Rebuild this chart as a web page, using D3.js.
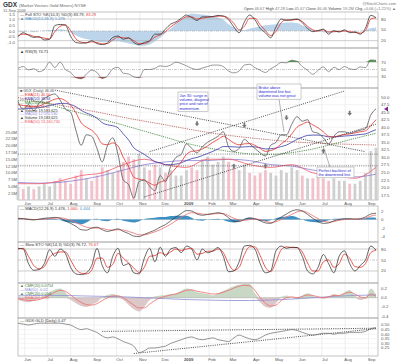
<!DOCTYPE html>
<html><head><meta charset="utf-8">
<script src="https://cdn.jsdelivr.net/npm/d3@7"></script>
<style>body{margin:0;background:#fff} text{font-family:"Liberation Sans",Arial,sans-serif}</style>
</head><body><svg id="chart" width="400" height="364"></svg>
<script>
// weekly samples, 23-May-2008 .. 11-Sep-2009
var startWeek = new Date(2008, 4, 23);
var price = [48.5,46.0,47.5,45.5,48.0,49.5,50.5,51.0,49.0,46.0,45.0,39.0,34.0,37.5,37.0,33.0,28.5,34.0,36.5,31.0,22.5,21.0,16.5,22.0,22.5,20.5,19.0,24.0,22.0,27.0,30.0,31.0,34.5,33.0,31.5,33.5,35.0,36.0,37.0,38.5,33.5,32.0,33.0,36.0,34.5,33.0,31.5,30.5,34.0,35.0,37.5,37.5,41.0,43.5,42.0,42.5,38.5,38.0,36.5,34.5,37.0,38.5,38.5,38.0,38.5,39.0,39.5,44.0,46.06];
var ema21 = [47.5,47.2,47.0,46.8,47.0,47.8,48.5,49.3,49.5,48.8,47.3,44.8,41.5,40.0,39.0,37.2,34.5,34.2,34.8,33.8,30.0,27.0,23.5,22.8,22.5,21.5,20.8,21.8,22.5,24.5,26.5,28.5,31.0,32.0,32.2,32.8,33.8,35.0,36.0,37.0,36.0,34.8,34.2,34.5,34.6,34.0,33.0,32.0,32.3,33.0,34.5,35.8,37.8,40.0,41.0,41.7,40.8,39.8,38.5,37.0,36.8,37.2,37.6,37.8,38.1,38.5,38.8,40.5,42.5];
var ema50 = [46.0,46.1,46.2,46.3,46.5,46.8,47.2,47.6,47.9,47.9,47.5,46.8,45.6,44.7,44.0,43.0,41.5,40.8,40.5,39.8,37.8,35.8,33.2,32.0,31.0,29.8,28.6,28.2,27.6,27.6,27.8,28.2,29.0,29.6,30.0,30.6,31.3,32.0,32.8,33.6,33.6,33.5,33.4,33.5,33.6,33.5,33.2,32.8,32.9,33.1,33.6,34.1,35.0,36.0,36.7,37.3,37.4,37.4,37.2,36.8,36.8,36.9,37.1,37.2,37.4,37.6,37.8,38.5,39.2];
// every 4th week
var sma150 = [48.8,48.4,46.5,44.6,42.6,40.7,38.7,36.7,34.7,33.2,32.0,31.2,31.0,31.6,32.8,34.5,36.3,38.0];
var sma200 = [49.8,48.5,47.3,46.0,44.7,43.3,42.0,40.8,39.5,38.3,37.3,36.5,35.8,35.2,34.8,34.5,34.3,34.1];
var volume = [5,4,5,4,5,6,5,7,8,7,6,9,11,8,7,9,12,11,10,11,14,16,15,17,12,11,13,12,10,11,9,9,11,12,11,15,16,13,14,16,14,12,11,13,10,9,10,11,10,9,11,10,12,11,9,8,8,9,8,7,8,7,7,6,6,7,10,18,19.2];
var volMa50 = [6.5,6.2,6.5,7.5,9,11,13,14,14.5,14.5,15,14.5,13,12.5,11,10,8.5,9.5];
var volEma = [6,6,7,9,10,13,15,13,12,15,15,13,12,13,10,9,8,12];

var stoK = [31,42,35,29,31,22,24,62,65,63,32,15,13,14,20,12,9,14,29,33,24,28,15,9,15,20,38,38,52,66,72,82,91,84,76,86,86,87,90,88,78,58,42,72,91,78,54,42,28,58,80,76,78,80,70,54,45,48,52,38,48,44,50,42,44,38,55,90,83.79];
var stoD = [33,38,37,32,30,27,25,45,60,64,48,25,16,14,17,15,11,12,22,30,28,27,20,12,12,18,30,36,45,58,68,78,86,86,80,82,85,86,88,88,82,68,50,60,82,82,64,48,34,46,70,78,77,79,73,60,50,47,50,44,45,46,47,45,43,41,48,80,83.29];
var stoArea = [0,-0.1,0,-0.1,0,0.05,0.1,0.1,0.15,0.1,-0.1,-0.4,-0.6,-0.7,-0.8,-0.9,-1.0,-1.0,-0.9,-0.9,-1.0,-1.1,-1.2,-1.3,-1.3,-1.2,-0.9,-0.6,-0.2,0.2,0.6,1.0,1.3,1.55,1.5,1.45,1.4,1.3,1.2,1.0,0.6,0.3,0.1,0.1,0.2,0.3,0.4,0.5,0.55,0.6,0.7,0.75,0.75,0.7,0.5,0.3,0.1,-0.05,-0.1,-0.15,-0.1,-0.1,-0.05,0,-0.05,0,0.1,0.25,0.3];
var rsi = [53,58,49,52,44,50,70,55,70,50,42,28,25,38,48,42,26,33,52,56,40,38,30,28,50,50,53,60,58,62,70,66,60,53,50,54,58,62,62,58,46,41,46,62,64,55,48,42,52,60,69,68,75,72,58,48,37,48,57,44,56,50,58,52,50,57,55,76,74.71];
var macd = [0.3,0.2,0,-0.1,0.1,0.3,0.4,0.5,0.3,-0.3,-0.9,-1.6,-2.4,-2.5,-2.0,-1.8,-2.4,-2.8,-2.5,-2.2,-2.8,-3.3,-3.9,-4.0,-3.5,-3.0,-2.5,-1.8,-1.2,-0.3,0.6,1.4,2.1,2.0,1.3,1.0,1.2,1.4,1.6,1.3,0.4,-0.4,-0.5,0,0.4,0.2,-0.3,-0.8,-0.9,-0.2,0.6,1.3,2.0,2.3,2.0,1.2,0.3,-0.5,-0.9,-0.8,-0.3,0,0.2,0.2,0.1,0.2,0.6,1.3,1.476];
var macdSig = [0.2,0.2,0.1,0,0,0.1,0.2,0.3,0.4,0.2,-0.2,-0.7,-1.3,-1.8,-2.0,-2.0,-2.1,-2.4,-2.5,-2.4,-2.5,-2.8,-3.2,-3.6,-3.6,-3.3,-2.9,-2.4,-1.8,-1.1,-0.3,0.5,1.2,1.6,1.5,1.3,1.2,1.3,1.4,1.4,0.9,0.3,-0.1,-0.2,0,0.1,0,-0.4,-0.7,-0.5,0,0.6,1.2,1.8,2.0,1.6,0.9,0.2,-0.4,-0.6,-0.5,-0.2,0,0.1,0.1,0.1,0.3,0.8,1.06];
var macdHist = [0.1,0,-0.1,-0.1,0.1,0.2,0.2,0.2,-0.1,-0.5,-0.7,-0.9,-1.1,-0.7,0,0.2,-0.3,-0.4,0,0.2,-0.3,-0.5,-0.7,-0.4,0.1,0.3,0.4,0.6,0.6,0.8,0.9,0.9,0.9,0.4,-0.2,-0.3,0,0.1,0.2,-0.1,-0.5,-0.7,-0.4,0.2,0.4,0.1,-0.3,-0.4,-0.2,0.3,0.6,0.7,0.8,0.5,0,-0.4,-0.6,-0.7,-0.5,-0.2,0.2,0.2,0.2,0.1,0,0.1,0.3,0.5,0.42];
var slowK = [82,80,40,22,24,40,78,60,80,68,30,12,10,15,35,82,35,15,60,82,35,40,15,12,55,82,45,85,60,80,84,70,88,80,50,80,70,75,84,60,18,20,45,88,90,80,40,15,20,75,88,82,85,84,60,20,12,30,65,40,15,60,75,40,20,35,50,88,76.72];
var slowD = [80,82,60,35,26,32,58,68,72,72,50,25,14,12,22,55,55,30,38,68,55,42,28,16,30,60,62,70,65,72,80,76,80,82,66,68,74,74,80,70,40,22,30,65,86,86,62,30,18,45,78,86,84,84,72,42,20,20,45,50,30,40,66,55,32,30,40,70,76.67];
var cmf = [-0.05,-0.08,-0.1,-0.06,-0.02,0.05,0.12,0.18,0.2,0.12,-0.05,-0.12,-0.18,-0.2,-0.15,-0.1,0.02,0.06,0.08,0.05,-0.05,-0.15,-0.25,-0.3,-0.2,-0.05,0.03,0.05,0.06,0.08,0.1,0.15,0.2,0.18,0.12,0.1,0.08,0.05,0.1,0.15,0.2,0.25,0.28,0.3,0.3,0.1,-0.1,-0.2,-0.22,-0.12,0.02,0.05,0,-0.03,0.05,0.1,0.05,0,-0.02,0.02,0.08,0.05,0.12,0.17,0.05,-0.05,-0.02,0.2,0.075];
var cmfEma = [-0.02,-0.04,-0.06,-0.06,-0.04,0,0.06,0.12,0.16,0.14,0.06,-0.03,-0.1,-0.15,-0.16,-0.13,-0.06,0,0.04,0.04,0,-0.08,-0.16,-0.22,-0.22,-0.14,-0.06,0,0.03,0.06,0.08,0.12,0.16,0.17,0.14,0.12,0.1,0.08,0.09,0.12,0.16,0.21,0.25,0.27,0.26,0.16,0,-0.12,-0.18,-0.16,-0.06,0,0.02,0,0.03,0.06,0.05,0.02,0,0.02,0.05,0.05,0.09,0.12,0.08,0.02,0,0.08,0.03];
var cmfMa = [0.04,0.05,0.05,0.04,0.03,0.02,0,-0.02,-0.04,-0.05,-0.06,-0.06,-0.05,-0.03,0,0.03,0.05,0.06];
var ratio = [0.52,0.51,0.50,0.51,0.52,0.52,0.52,0.52,0.52,0.51,0.50,0.47,0.45,0.46,0.44,0.42,0.38,0.36,0.37,0.35,0.32,0.30,0.27,0.20,0.22,0.25,0.25,0.26,0.27,0.30,0.32,0.34,0.36,0.37,0.35,0.34,0.35,0.36,0.34,0.33,0.32,0.36,0.39,0.37,0.35,0.34,0.36,0.39,0.41,0.42,0.43,0.44,0.45,0.44,0.42,0.40,0.39,0.40,0.41,0.41,0.40,0.41,0.41,0.42,0.42,0.42,0.43,0.46,0.47];

// chart annotations: arrows (week index, price) and dotted trend lines
var downArrows = [[34, 40.5], [43, 40.0], [51, 42.5], [63, 44.0]];
var upArrows = [[41, 27.8], [47, 27.8], [58, 32.8]];

var priceTicks = [17.5,20.0,22.5,25.0,27.5,30.0,32.5,35.0,37.5,40.0,42.5,45.0,47.5,50.0];
var volTicks = [2.5,5.0,7.5,10.0,12.5,15.0,17.5,20.0,22.5,25.0];

var svg = d3.select("#chart");
var X0 = 18, X1 = 378;
var dates = price.map(function(d, i) { return d3.timeWeek.offset(startWeek, i); });
var every4 = function(i) { return dates[i * 4]; };
var byWeek = function(i) { return dates[i]; };
var x = d3.scaleTime().domain([dates[0], dates[dates.length - 1]]).range([18, 376]);
var months = d3.timeMonth.range(new Date(2008, 5, 1), new Date(2009, 8, 2));
var fmtMonth = function(m) { return m.getMonth() === 0 ? m.getFullYear() : d3.timeFormat("%b")(m); };

function panel(top, bottom) {
	var g = svg.append("g");
	months.forEach(function(m) {
		g.append("line").attr("x1", x(m)).attr("x2", x(m)).attr("y1", top).attr("y2", bottom)
			.attr("stroke", "#e2e2e2").attr("stroke-width", 0.6);
	});
	g.append("rect").attr("x", X0).attr("y", top).attr("width", X1 - X0).attr("height", bottom - top)
		.attr("fill", "none").attr("stroke", "#9a9a9a").attr("stroke-width", 0.6);
	return g;
}
function hline(y, v, color, dash) {
	svg.append("line").attr("x1", X0).attr("x2", X1).attr("y1", y(v)).attr("y2", y(v))
		.attr("stroke", color).attr("stroke-width", 0.6).attr("stroke-dasharray", dash || null);
}
function plot(vals, dts, y, color, w, dash) {
	svg.append("path").datum(vals)
		.attr("d", d3.line().x(function(d, i) { return x(dts(i)); }).y(function(d) { return y(d); }).curve(d3.curveMonotoneX))
		.attr("fill", "none").attr("stroke", color).attr("stroke-width", w).attr("stroke-dasharray", dash || null);
}
function fill(vals, y, base, color, clamp) {
	svg.append("path").datum(vals)
		.attr("d", d3.area().x(function(d, i) { return x(dates[i]); }).y0(y(base))
			.y1(function(d) { return y(clamp ? clamp(d) : d); }).curve(d3.curveMonotoneX))
		.attr("fill", color).attr("stroke", "none");
}
function label(tx, ty, str, color, size, anchor, weight) {
	return svg.append("text").attr("x", tx).attr("y", ty).text(str).attr("fill", color || "#444")
		.attr("font-size", size || 4.6).attr("text-anchor", anchor || "start").attr("font-weight", weight || null);
}
// legend line made of coloured pieces
function legend(tx, ty, parts, size, anchor) {
	var t = svg.append("text").attr("x", tx).attr("y", ty).attr("font-size", size || 4.1).attr("text-anchor", anchor || "start");
	parts.forEach(function(p) { t.append("tspan").text(p[0]).attr("fill", p[1]); });
}
function rightTicks(y, vals, fmt) {
	vals.forEach(function(v) { label(X1 + 3, y(v) + 1.5, fmt ? fmt(v) : v, "#555", 4.3); });
}
function monthAxis(ty) {
	months.forEach(function(m) { label(x(m) + 3, ty, fmtMonth(m), "#555", 4.3, "middle", m.getMonth() === 0 ? "bold" : null); });
}
function dotted(pts, y) {
	pts.forEach(function(t) {
		svg.append("line").attr("x1", x(dates[t[0][0]])).attr("y1", y(t[0][1])).attr("x2", x(dates[t[1][0]])).attr("y2", y(t[1][1]))
			.attr("stroke", "#222").attr("stroke-width", 0.8).attr("stroke-dasharray", "1,1.2");
	});
}

// header
label(3, 7, "GDX", "#333", 6.5, "start", "bold");
label(19, 6.5, "(Market Vectors Gold Miners)  NYSE", "#666", 4.2);
label(3, 11.5, "11-Sep-2009", "#666", 4);
label(396, 4.5, "@StockCharts.com", "#777", 3.9, "end");
legend(396, 10, [["Open ", "#444"], ["46.67 ", "#777"], [" High ", "#444"], ["47.28 ", "#777"], [" Low ", "#444"], ["45.67 ", "#777"],
	[" Close ", "#444"], ["46.06 ", "#777"], [" Volume ", "#444"], ["19.2M ", "#777"], [" Chg ", "#444"], ["+0.06 (+1.21%) \u25B2", "#777"]], 4, "end");

// panel 1: full stochastics
var y1L = d3.scaleLinear().domain([-1.5, 1.68]).range([48, 12]);
var y1R = d3.scaleLinear().domain([0, 100]).range([47.9, 11.8]);
panel(12, 48);
fill(stoArea, y1L, 0, "#bcd5ea");
hline(y1R, 80, "#aaa"); hline(y1R, 20, "#aaa"); hline(y1L, 0, "#aaa", "3,1,1,1");
plot(stoD, byWeek, y1R, "#e8463c", 0.9);
plot(stoK, byWeek, y1R, "#222", 0.7);
[1.5, 1.0, 0.5, 0.0, -0.5, -1.0].forEach(function(v) { label(15, y1L(v) + 1.5, v.toFixed(1), "#555", 4.3, "end"); });
rightTicks(y1R, [80, 50, 20]);
legend(20, 15.5, [["\u2014 Full STO %K(10,3) %D(3) 83.79, ", "#333"], ["83.29", "#e8463c"]]);
legend(20, 19.8, [["\u25B2 MACD(12,26,9) 1.476", "#4f8fc6"]]);

// panel 2: RSI
var y2 = d3.scaleLinear().domain([0, 100]).range([88, 51]);
panel(48, 88);
hline(y2, 70, "#aaa"); hline(y2, 30, "#aaa"); hline(y2, 50, "#aaa", "3,1,1,1");
fill(rsi, y2, 70, "#4f9a4f", function(d) { return Math.max(d, 70); });
fill(rsi, y2, 30, "#b5504a", function(d) { return Math.min(d, 30); });
plot(rsi, byWeek, y2, "#555", 0.6);
rightTicks(y2, [70, 50, 30]);
legend(20, 52.5, [["\u25B2 RSI(9) 74.71", "#333"]]);

// panel 3: price, moving averages, volume
var y3 = d3.scaleLinear().domain([15.9, 53.0]).range([200, 88]);
var yV = d3.scaleLinear().domain([0, 41.2]).range([200, 88]);
panel(88, 200);
priceTicks.forEach(function(v) { hline(y3, v, "#ececec"); });
svg.append("g").selectAll("rect").data(volume).enter().append("rect")
	.attr("x", function(d, i) { return x(dates[i]) - 1.4; }).attr("width", 2.8)
	.attr("y", function(d) { return yV(d); }).attr("height", function(d) { return yV(0) - yV(d); })
	.attr("fill", function(d, i) { return i > 0 && price[i] < price[i - 1] ? "#f3c1cb" : "#cfcfcf"; });
plot(volMa50, every4, yV, "#8e7fd6", 0.8);
plot(volEma, every4, yV, "#ef5a6a", 0.8);
hline(y3, 31.1, "#333", "1,1.2"); hline(y3, 27.2, "#333", "1,1.2");
plot(sma200, every4, y3, "#b0504a", 0.8, "1.2,1");
plot(sma150, every4, y3, "#2f7d2f", 0.8, "1.2,1");
plot(ema50, byWeek, y3, "#3a3aa8", 0.8);
plot(ema21, byWeek, y3, "#e8302c", 0.8);
plot(price, byWeek, y3, "#666", 0.9);
dotted([[[7, 52.3], [66, 31.9]], [[24, 16.9], [68, 41.0]], [[25, 31.9], [62, 52.0]]], y3);
// grey arrows pointing at turns
downArrows.forEach(function(a) {
	svg.append("path").attr("transform", "translate(" + x(dates[a[0]]) + "," + y3(a[1]) + ")")
		.attr("d", "M-0.9,-4.5h1.8v2.3h1.4l-2.3,2.7l-2.3,-2.7h1.4z").attr("fill", "#777");
});
upArrows.forEach(function(a) {
	svg.append("path").attr("transform", "translate(" + x(dates[a[0]]) + "," + y3(a[1]) + ")")
		.attr("d", "M-0.9,4.5h1.8v-2.3h1.4l-2.3,-2.7l-2.3,2.7h1.4z").attr("fill", "#777");
});
priceTicks.forEach(function(v) { label(X1 + 3, y3(v) + 1.5, v.toFixed(1), "#555", 4.3); });
volTicks.forEach(function(v) { label(17, yV(v) + 1.5, v.toFixed(1) + "M", "#555", 4.1, "end"); });
var leg = [["\u25A0 GDX (Daily) 46.06", "#555"], ["\u2014 EMA(21) 40.50", "#e8302c"], ["\u2014 EMA(50) 38.84", "#3a3aa8"],
	["--- MA(150) 36.58", "#2f7d2f"], ["--- MA(200) 34.10", "#b0504a"], ["\u25B2 Volume 19,183,625", "#333"],
	["\u2014 MA(50) 12,570,530", "#8e7fd6"], ["\u25B2 Volume 19,183,625", "#333"], ["\u2014 EMA(50) 13,240,730", "#ef5a6a"]];
leg.forEach(function(l, i) { legend(20, 92 + i * 3.9, [l], 3.8); });
// notes with pointer lines
function note(bx, by, w, lines, px, py) {
	if (px) {
		svg.append("line").attr("x1", bx + w / 2).attr("y1", by + lines.length * 4.4 + 2).attr("x2", px).attr("y2", py)
			.attr("stroke", "#666").attr("stroke-width", 0.5);
	}
	svg.append("rect").attr("x", bx).attr("y", by).attr("width", w).attr("height", lines.length * 4.4 + 2)
		.attr("fill", "#fff").attr("stroke", "#999").attr("stroke-width", 0.5);
	lines.forEach(function(s, i) { label(bx + 1.5, by + 4.5 + i * 4.4, s, "#2a2ad0", 3.9); });
}
note(178, 92, 30, ["Jan 30: surge in", "volume, diagonal", "price and rate of", "momentum"]);
note(257, 84, 44, ["Broke above", "downtrend line but,", "volume was not great"], 284, y3(38.5));
note(317, 167, 37, ["Perfect backtest of", "the downtrend line"]);
svg.append("line").attr("x1", 330).attr("y1", 167).attr("x2", x(dates[58])).attr("y2", y3(33.5))
	.attr("stroke", "#666").attr("stroke-width", 0.5);
svg.append("path").attr("d", "M384," + y3(46.06) + "l4,-2.5v5z").attr("fill", "#7a2a8a");
monthAxis(204.5);

// panel 4: MACD
var y4 = d3.scaleLinear().domain([-5.29, 3.18]).range([242, 206]);
panel(206, 242);
hline(y4, 0, "#bbb");
fill(macdHist, y4, 0, "#3d8fc4");
plot(macdSig, byWeek, y4, "#ef6a6a", 0.8);
plot(macd, byWeek, y4, "#333", 0.7);
rightTicks(y4, [2, 0, -2, -4]);
legend(20, 210, [["\u2014 MACD(12,26,9) 1.476, ", "#333"], ["1.060, ", "#e8463c"], ["0.444", "#3d8fc4"]]);

// panel 5: slow stochastics
var y5 = d3.scaleLinear().domain([0, 100]).range([278.3, 241.7]);
panel(242, 283);
hline(y5, 80, "#aaa"); hline(y5, 20, "#aaa"); hline(y5, 50, "#aaa", "3,1,1,1");
plot(slowD, byWeek, y5, "#e8463c", 0.9);
plot(slowK, byWeek, y5, "#222", 0.7);
rightTicks(y5, [80, 50, 20]);
legend(20, 246, [["\u2014 Slow STO %K(14,3) %D(3) 76.72, ", "#333"], ["76.67", "#e8463c"]]);

// panel 6: CMF
var y6 = d3.scaleLinear().domain([-0.44, 0.32]).range([318, 283]);
panel(283, 318);
fill(cmf, y6, 0, "#c9d8c4", function(d) { return Math.max(d, 0); });
fill(cmf, y6, 0, "#dcc8c8", function(d) { return Math.min(d, 0); });
hline(y6, 0, "#aaa");
plot(cmfMa, every4, y6, "#8e8ed6", 0.8);
plot(cmfEma, byWeek, y6, "#ef6a6a", 0.8);
rightTicks(y6, [0.2, 0.0, -0.2, -0.4], function(v) { return v.toFixed(1); });
legend(20, 287, [["\u25B2 CMF(20) 0.0754", "#3d7a3d"]], 3.9);
legend(20, 291, [["\u2014 MA(50) -0.02", "#8e8ed6"]], 3.9);
legend(20, 295, [["\u25B2 CMF(20) 0.054", "#3d7a3d"]], 3.9);
legend(20, 299, [["\u2014 EMA(20) 0.03", "#ef6a6a"]], 3.9);

// panel 7: GDX:GLD ratio
var y7 = d3.scaleLinear().domain([0.163, 0.576]).range([356, 318]);
panel(318, 356);
[0.25, 0.30, 0.35, 0.40, 0.45, 0.50].forEach(function(v) { hline(y7, v, "#ececec"); });
dotted([[[16, 0.43], [68, 0.465]], [[22, 0.19], [68, 0.46]]], y7);
plot(ratio, byWeek, y7, "#666", 0.7);
rightTicks(y7, [0.50, 0.45, 0.40, 0.35, 0.30, 0.25], function(v) { return v.toFixed(2); });
legend(20, 322, [["\u2014 GDX:GLD (Daily) 0.47", "#333"]]);
monthAxis(361);
</script></body></html>
